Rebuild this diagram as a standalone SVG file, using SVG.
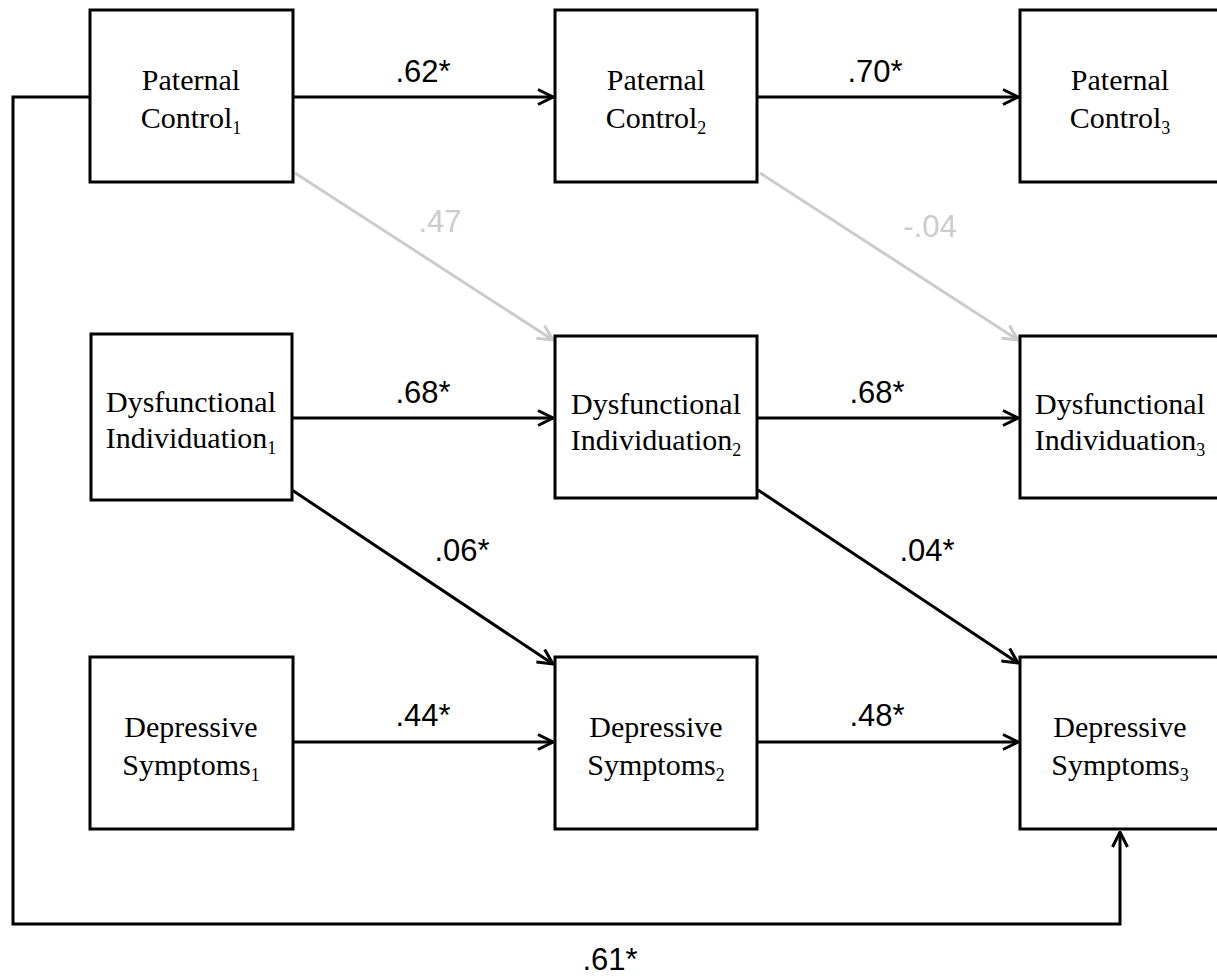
<svg xmlns="http://www.w3.org/2000/svg" width="1217" height="976" viewBox="0 0 1217 976">
<style>
.box{fill:#fff;stroke:#000;stroke-width:3}
.nt{font-family:"Liberation Serif","Times New Roman",serif;font-size:30px;fill:#000;text-anchor:middle}
.sub{font-size:18px}
.lbl{font-family:"Liberation Sans",Arial,sans-serif;font-size:31px;fill:#000;text-anchor:middle}
.lblg{fill:#cccccc}
.c{fill:none;stroke:#000;stroke-width:3}
.cg{fill:none;stroke:#cccccc;stroke-width:3}
</style>
<defs>
<marker id="ah" viewBox="0 0 12 12" refX="11" refY="6" markerWidth="6" markerHeight="6" markerUnits="strokeWidth" orient="auto">
<path d="M1,1 L11,6 L1,11" fill="none" stroke="#000" stroke-width="2"/>
</marker>
<marker id="ahg" viewBox="0 0 12 12" refX="11" refY="6" markerWidth="6" markerHeight="6" markerUnits="strokeWidth" orient="auto">
<path d="M1,1 L11,6 L1,11" fill="none" stroke="#cccccc" stroke-width="2"/>
</marker>
</defs>
<g id="connectors">
<polyline class="c" points="90,97 13,97 13,924 1120,924 1120,832" marker-end="url(#ah)"/>
<line class="c" x1="293" y1="97" x2="553" y2="97" marker-end="url(#ah)"/>
<line class="c" x1="757" y1="97" x2="1018" y2="97" marker-end="url(#ah)"/>
<line class="cg" x1="295" y1="173" x2="553" y2="340" marker-end="url(#ahg)"/>
<line class="cg" x1="760" y1="173" x2="1018" y2="340" marker-end="url(#ahg)"/>
<line class="c" x1="292" y1="418" x2="553" y2="418" marker-end="url(#ah)"/>
<line class="c" x1="757" y1="418" x2="1018" y2="418" marker-end="url(#ah)"/>
<line class="c" x1="292" y1="490" x2="553" y2="664" marker-end="url(#ah)"/>
<line class="c" x1="758" y1="490" x2="1018" y2="663" marker-end="url(#ah)"/>
<line class="c" x1="293" y1="742" x2="553" y2="742" marker-end="url(#ah)"/>
<line class="c" x1="757" y1="742" x2="1018" y2="742" marker-end="url(#ah)"/>
<text class="lbl" x="423" y="82">.62*</text>
<text class="lbl" x="875" y="82">.70*</text>
<text class="lbl lblg" x="440" y="232">.47</text>
<text class="lbl lblg" x="930" y="237">-.04</text>
<text class="lbl" x="423" y="403">.68*</text>
<text class="lbl" x="877" y="403">.68*</text>
<text class="lbl" x="462" y="561">.06*</text>
<text class="lbl" x="927" y="561">.04*</text>
<text class="lbl" x="423" y="726">.44*</text>
<text class="lbl" x="877" y="726">.48*</text>
<text class="lbl" x="610" y="970">.61*</text>
</g>
<g id="pc1"><rect class="box" x="90" y="10" width="203" height="172"/><text class="nt" x="191" y="90">Paternal</text><text class="nt" x="191" y="128">Control<tspan class="sub" dy="6">1</tspan></text></g>
<g id="pc2"><rect class="box" x="555" y="10" width="202" height="172"/><text class="nt" x="656" y="90">Paternal</text><text class="nt" x="656" y="128">Control<tspan class="sub" dy="6">2</tspan></text></g>
<g id="pc3"><rect class="box" x="1020" y="10" width="220" height="172"/><text class="nt" x="1120" y="90">Paternal</text><text class="nt" x="1120" y="128">Control<tspan class="sub" dy="6">3</tspan></text></g>
<g id="di1"><rect class="box" x="91" y="334" width="201" height="166"/><text class="nt" x="191" y="412">Dysfunctional</text><text class="nt" x="191" y="448">Individuation<tspan class="sub" dy="6">1</tspan></text></g>
<g id="di2"><rect class="box" x="555" y="336" width="202" height="162"/><text class="nt" x="656" y="414">Dysfunctional</text><text class="nt" x="656" y="450">Individuation<tspan class="sub" dy="6">2</tspan></text></g>
<g id="di3"><rect class="box" x="1020" y="336" width="220" height="162"/><text class="nt" x="1120" y="414">Dysfunctional</text><text class="nt" x="1120" y="450">Individuation<tspan class="sub" dy="6">3</tspan></text></g>
<g id="ds1"><rect class="box" x="90" y="657" width="203" height="172"/><text class="nt" x="191" y="737">Depressive</text><text class="nt" x="191" y="775">Symptoms<tspan class="sub" dy="6">1</tspan></text></g>
<g id="ds2"><rect class="box" x="555" y="657" width="202" height="172"/><text class="nt" x="656" y="737">Depressive</text><text class="nt" x="656" y="775">Symptoms<tspan class="sub" dy="6">2</tspan></text></g>
<g id="ds3"><rect class="box" x="1020" y="657" width="220" height="172"/><text class="nt" x="1120" y="737">Depressive</text><text class="nt" x="1120" y="775">Symptoms<tspan class="sub" dy="6">3</tspan></text></g>
</svg>
